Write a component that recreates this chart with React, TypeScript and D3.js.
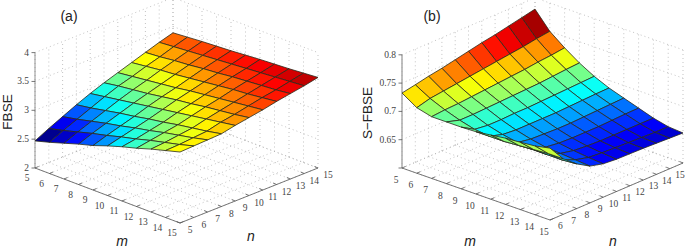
import React from 'react';
import * as d3 from 'd3';

const gridM = [5, 6, 7, 8, 9, 10, 11, 12, 13, 14, 15];
const gridN = [5, 6, 7, 8, 9, 10, 11, 12, 13, 14, 15];

// rows are m = 5..15, columns are n = 5..15
const fbse = [
  [2.47, 2.59, 2.70, 2.81, 2.91, 3.00, 3.08, 3.16, 3.24, 3.32, 3.39],
  [2.54, 2.65, 2.75, 2.85, 2.95, 3.04, 3.11, 3.19, 3.26, 3.34, 3.41],
  [2.62, 2.72, 2.81, 2.90, 2.99, 3.07, 3.14, 3.22, 3.29, 3.36, 3.43],
  [2.70, 2.79, 2.87, 2.95, 3.03, 3.10, 3.17, 3.24, 3.31, 3.38, 3.445],
  [2.77, 2.85, 2.92, 2.99, 3.07, 3.14, 3.20, 3.27, 3.34, 3.40, 3.46],
  [2.86, 2.92, 2.98, 3.04, 3.11, 3.18, 3.24, 3.30, 3.36, 3.42, 3.48],
  [2.94, 2.98, 3.03, 3.08, 3.15, 3.21, 3.27, 3.33, 3.39, 3.44, 3.50],
  [3.01, 3.05, 3.09, 3.13, 3.19, 3.25, 3.30, 3.36, 3.41, 3.46, 3.515],
  [3.09, 3.11, 3.14, 3.17, 3.23, 3.28, 3.33, 3.38, 3.43, 3.48, 3.53],
  [3.16, 3.17, 3.19, 3.21, 3.27, 3.31, 3.36, 3.41, 3.45, 3.50, 3.55],
  [3.23, 3.24, 3.25, 3.26, 3.31, 3.35, 3.39, 3.44, 3.48, 3.52, 3.57],
];

const sFbse = [
  [0.7325, 0.737, 0.742, 0.746, 0.751, 0.756, 0.761, 0.765, 0.77, 0.775, 0.78],
  [0.7157, 0.722, 0.725, 0.728, 0.731, 0.734, 0.737, 0.74, 0.743, 0.747, 0.75],
  [0.709, 0.711, 0.712, 0.714, 0.716, 0.718, 0.72, 0.722, 0.725, 0.727, 0.73],
  [0.709, 0.702, 0.702, 0.703, 0.704, 0.705, 0.706, 0.707, 0.709, 0.711, 0.7125],
  [0.709, 0.695, 0.692, 0.692, 0.693, 0.693, 0.694, 0.695, 0.696, 0.697, 0.698],
  [0.71, 0.692, 0.685, 0.683, 0.683, 0.683, 0.683, 0.684, 0.685, 0.686, 0.6866],
  [0.7134, 0.692, 0.68, 0.676, 0.675, 0.674, 0.674, 0.675, 0.676, 0.677, 0.678],
  [0.717, 0.694, 0.677, 0.671, 0.668, 0.667, 0.667, 0.667, 0.668, 0.669, 0.6695],
  [0.719, 0.696, 0.677, 0.669, 0.664, 0.662, 0.661, 0.661, 0.661, 0.661, 0.661],
  [0.7216, 0.698, 0.677, 0.667, 0.661, 0.659, 0.658, 0.657, 0.656, 0.655, 0.655],
  [0.727, 0.698, 0.679, 0.665, 0.659, 0.657, 0.6565, 0.656, 0.655, 0.654, 0.653],
];

const zTicksA = [2, 2.5, 3, 3.5, 4];
const zTicksB = [0.6, 0.65, 0.7, 0.75, 0.8];
const zLabelsB = ['', '0.65', '0.7', '0.75', '0.8'];
const zLabelsA = ['2', '2.5', '3', '3.5', '4'];
const colourLimitsA: [number, number] = [2.47, 3.57];
const colourLimitsB: [number, number] = [0.645, 0.78];

const jet = d3.scaleLinear<string>()
  .domain([0, 0.125, 0.375, 0.625, 0.875, 1])
  .range(['#00008f', '#0000ff', '#00ffff', '#ffff00', '#ff0000', '#800000'])
  .interpolate(d3.interpolateRgb);

type Pt = [number, number];

type PanelProps = {
  values: number[][];
  zTicks: number[];
  zLabels: string[];
  zRange: Pt;
  clim: Pt;
  origin: Pt; // m=5, n=5, zmin
  mEnd: Pt; // m=15, n=5
  nEnd: Pt; // m=15, n=15
  zPx: number;
  mOffset: Pt;
  nOffset: Pt;
  tag: string;
  tagPos: Pt;
  zTitle: string;
  zTitlePos: Pt;
  mPos: Pt;
  nPos: Pt;
  showN5: boolean;
  zAxis: { stroke: string; strokeWidth: number };
};

const Panel = (p: PanelProps) => {
  const [x0, y0] = p.origin;
  const [x1, y1] = p.mEnd;
  const [x2, y2] = p.nEnd;
  const mx = d3.scaleLinear().domain([5, 15]).range([0, x1 - x0]);
  const my = d3.scaleLinear().domain([5, 15]).range([0, y1 - y0]);
  const nx = d3.scaleLinear().domain([5, 15]).range([0, x2 - x1]);
  const ny = d3.scaleLinear().domain([5, 15]).range([0, y2 - y1]);
  const zy = d3.scaleLinear().domain(p.zRange).range([0, -p.zPx]);
  const project = (m: number, n: number, z: number): Pt => [
    x0 + mx(m) + nx(n),
    y0 + my(m) + ny(n) + zy(z),
  ];
  const zMin = p.zRange[0];
  const zMax = p.zRange[1];
  const colour = d3.scaleLinear().domain(p.clim).range([0, 1]).clamp(true);
  const line = d3.line();

  // far cells first so nearer ones paint over them
  const cells: React.ReactNode[] = [];
  for (let i = 0; i < gridM.length - 1; i++) {
    for (let j = gridN.length - 2; j >= 0; j--) {
      const corners = [
        project(gridM[i], gridN[j], p.values[i][j]),
        project(gridM[i + 1], gridN[j], p.values[i + 1][j]),
        project(gridM[i + 1], gridN[j + 1], p.values[i + 1][j + 1]),
        project(gridM[i], gridN[j + 1], p.values[i][j + 1]),
      ];
      cells.push(
        <path key={`${i}-${j}`} d={line(corners) + 'Z'} fill={jet(colour(p.values[i][j]))}
          stroke="#2a2a1a" strokeWidth={0.8} strokeLinejoin="round" />
      );
    }
  }

  const dotted = { stroke: '#b4b4b4', strokeWidth: 0.8, strokeDasharray: '1 3', fill: 'none' };
  const seg = (a: Pt, b: Pt) => line([a, b]) as string;
  const grid: React.ReactNode[] = [];
  gridM.forEach(m => {
    grid.push(<path key={`fm${m}`} d={seg(project(m, 5, zMin), project(m, 15, zMin))} {...dotted} />);
    grid.push(<path key={`wm${m}`} d={seg(project(m, 15, zMin), project(m, 15, zMax))} {...dotted} />);
  });
  gridN.forEach(n => {
    grid.push(<path key={`fn${n}`} d={seg(project(5, n, zMin), project(15, n, zMin))} {...dotted} />);
    grid.push(<path key={`wn${n}`} d={seg(project(5, n, zMin), project(5, n, zMax))} {...dotted} />);
  });
  p.zTicks.forEach(z => {
    grid.push(<path key={`z1${z}`} d={seg(project(5, 5, z), project(5, 15, z))} {...dotted} />);
    grid.push(<path key={`z2${z}`} d={seg(project(5, 15, z), project(15, 15, z))} {...dotted} />);
  });

  const tickFont = { fontFamily: 'Liberation Serif', fontSize: 9.5, fill: '#444' };
  const axisStroke = { stroke: '#555', strokeWidth: 0.8, fill: 'none' };

  return (
    <g>
      {grid}
      <path d={seg(project(5, 5, zMin), project(15, 5, zMin))} {...axisStroke} />
      <path d={seg(project(15, 5, zMin), project(15, 15, zMin))} {...axisStroke} />
      <path d={seg(project(5, 5, zMin), project(5, 5, zMax))} fill="none" {...p.zAxis} />
      {gridM.map(m => {
        const [x, y] = project(m, 5, zMin);
        return (
          <g key={`mt${m}`}>
            <path d={seg([x, y], [x + 3.5, y - 1.5])} {...axisStroke} />
            <text x={x + p.mOffset[0]} y={y + p.mOffset[1]} textAnchor="middle" {...tickFont}>{m}</text>
          </g>
        );
      })}
      {gridN.filter(n => p.showN5 || n > 5).map(n => {
        const [x, y] = project(15, n, zMin);
        return (
          <g key={`nt${n}`}>
            <path d={seg([x, y], [x - 3.5, y - 1.5])} {...axisStroke} />
            <text x={x + p.nOffset[0]} y={y + p.nOffset[1]} textAnchor="middle" {...tickFont}>{n}</text>
          </g>
        );
      })}
      {p.zTicks.map((z, i) => {
        const [x, y] = project(5, 5, z);
        return (
          <g key={`zt${z}`}>
            <path d={seg([x, y], [x - 3.5, y])} {...axisStroke} />
            <text x={x - 6} y={y + 3} textAnchor="end" {...tickFont}>{p.zLabels[i]}</text>
          </g>
        );
      })}
      {cells}
      <text x={p.tagPos[0]} y={p.tagPos[1]} textAnchor="middle" fontFamily="Liberation Sans" fontSize={14} fill="#222">{p.tag}</text>
      <text transform={`translate(${p.zTitlePos[0]},${p.zTitlePos[1]}) rotate(-90)`} textAnchor="middle"
        fontFamily="Liberation Sans" fontSize={13.5} fill="#222">{p.zTitle}</text>
      <text x={p.mPos[0]} y={p.mPos[1]} textAnchor="middle" fontFamily="Liberation Sans" fontStyle="italic" fontSize={14} fill="#222">m</text>
      <text x={p.nPos[0]} y={p.nPos[1]} textAnchor="middle" fontFamily="Liberation Sans" fontStyle="italic" fontSize={14} fill="#222">n</text>
    </g>
  );
};

export default function App() {
  return (
    <svg width={685} height={249} style={{ position: 'absolute', left: 0, top: 0, background: '#fff' }}>
      <Panel values={fbse} zTicks={zTicksA} zLabels={zLabelsA} zRange={[2, 4]} clim={colourLimitsA}
        origin={[35, 168]} mEnd={[180, 223]} nEnd={[318, 168]} zPx={115.4}
        mOffset={[-8, 13]} nOffset={[10, 10]}
        tag="(a)" tagPos={[69, 21]} zTitle="FBSE" zTitlePos={[12, 112]}
        mPos={[122, 246]} nPos={[251, 241]} showN5={true} zAxis={{ stroke: '#777', strokeWidth: 0.8 }} />
      <Panel values={sFbse} zTicks={zTicksB} zLabels={zLabelsB} zRange={[0.6, 0.8]} clim={colourLimitsB}
        origin={[402, 168]} mEnd={[550, 220]} nEnd={[683, 163]} zPx={113.2}
        mOffset={[-6, 15]} nOffset={[-3, 15]}
        tag="(b)" tagPos={[432, 21]} zTitle="S−FBSE" zTitlePos={[372, 113]}
        mPos={[470, 246]} nPos={[613, 246]} showN5={false} zAxis={{ stroke: '#aaa', strokeWidth: 1.5 }} />
    </svg>
  );
}
